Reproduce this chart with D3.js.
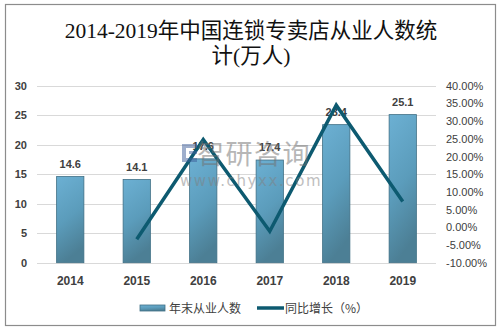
<!DOCTYPE html>
<html>
<head>
<meta charset="utf-8">
<script src="https://cdn.jsdelivr.net/npm/d3@7"></script>
<style>
  html, body { margin: 0; padding: 0; background: #fff; }
  svg { display: block; }
</style>
</head>
<body>
<svg id="chart" width="500" height="332"></svg>
<script>
// Chart data
const years = ["2014", "2015", "2016", "2017", "2018", "2019"];
const employees = [14.6, 14.1, 17.6, 17.4, 23.4, 25.1];          // 万人
const growth = [null, -3.4, 24.8, -1.1, 34.5, 7.3];               // %
const leftTicks = [0, 5, 10, 15, 20, 25, 30];
const rightTicks = [-10, -5, 0, 5, 10, 15, 20, 25, 30, 35, 40];
const titleLines = ["2014-2019年中国连锁专卖店从业人数统", "计(万人)"];
const legendLabels = ["年末从业人数", "同比增长（%）"];

const svg = d3.select("#chart");
const plot = { left: 37, right: 436, top: 85.7, bottom: 262.7 };
const textColor = "#404040";
const uiFont = "'Liberation Sans', Arial, 'Noto Sans CJK SC', sans-serif";

// Outer frame
svg.append("rect")
  .attr("x", 5.5).attr("y", 4.5).attr("width", 490).attr("height", 321)
  .attr("fill", "#fff").attr("stroke", "#8c8c8c").attr("stroke-width", 1.2);

// Title
const title = svg.append("text")
  .attr("text-anchor", "middle")
  .attr("font-family", "'Liberation Serif', 'DejaVu Serif', 'Noto Sans CJK SC', serif")
  .attr("font-size", 21.5)
  .attr("fill", "#111");
titleLines.forEach((t, i) => {
  title.append("tspan").attr("x", 251).attr("y", 38 + i * 25).text(t);
});

// Scales
const x = d3.scaleBand().domain(years).range([plot.left, plot.right]).paddingInner(0.59).paddingOuter(0.295);
const xc = d3.scalePoint().domain(years).range([plot.left + 33.25, plot.right - 33.25]);
const yL = d3.scaleLinear().domain([0, 30]).range([plot.bottom, plot.top]);
const yR = d3.scaleLinear().domain([-10, 40]).range([plot.bottom, plot.top]);

// Gridlines
svg.append("g").selectAll("line").data(leftTicks).join("line")
  .attr("x1", plot.left).attr("x2", plot.right)
  .attr("y1", d => Math.round(yL(d)) + 0.5).attr("y2", d => Math.round(yL(d)) + 0.5)
  .attr("stroke", "#d9d9d9").attr("stroke-width", 1);

// Left axis
const axL = svg.append("g").attr("transform", `translate(${plot.left},0)`)
  .call(d3.axisLeft(yL).tickValues(leftTicks).tickSize(0).tickPadding(10));
axL.select(".domain").remove();
axL.selectAll("text").attr("font-family", uiFont).attr("font-size", 11).attr("font-weight", "bold").attr("fill", textColor);

// Right axis
const axR = svg.append("g").attr("transform", `translate(${plot.right},0)`)
  .call(d3.axisRight(yR).tickValues(rightTicks).tickSize(0).tickPadding(10).tickFormat(d => d.toFixed(2) + "%"));
axR.select(".domain").remove();
axR.selectAll("text").attr("font-family", uiFont).attr("font-size", 11).attr("fill", textColor);

// Bottom axis
const axB = svg.append("g").attr("transform", `translate(0,${plot.bottom})`)
  .call(d3.axisBottom(x).tickSize(0).tickPadding(14));
axB.select(".domain").remove();
axB.selectAll("text").attr("font-family", uiFont).attr("font-size", 12).attr("font-weight", "bold").attr("fill", textColor);

// Bar gradient
const defs = svg.append("defs");
const grad = defs.append("linearGradient").attr("id", "barGrad")
  .attr("x1", "0").attr("y1", "0").attr("x2", "0.25").attr("y2", "1");
grad.append("stop").attr("offset", "0%").attr("stop-color", "#6cb0d3");
grad.append("stop").attr("offset", "55%").attr("stop-color", "#5b9cbb");
grad.append("stop").attr("offset", "100%").attr("stop-color", "#4c7f95");

// Bars
svg.append("g").selectAll("rect").data(employees).join("rect")
  .attr("x", (d, i) => x(years[i]))
  .attr("y", d => yL(d))
  .attr("width", x.bandwidth())
  .attr("height", d => yL(0) - yL(d))
  .attr("fill", "url(#barGrad)")
  .attr("stroke", "#3f6f85").attr("stroke-width", 0.8);

// Bar value labels
svg.append("g").selectAll("text").data(employees).join("text")
  .attr("x", (d, i) => x(years[i]) + x.bandwidth() / 2)
  .attr("y", d => yL(d) - 9)
  .attr("text-anchor", "middle")
  .attr("font-family", uiFont).attr("font-size", 11).attr("font-weight", "bold")
  .attr("fill", textColor)
  .text(d => d.toFixed(1));

// Growth line
const pts = years.map((y, i) => ({ y, v: growth[i] })).filter(p => p.v !== null);
svg.append("path").datum(pts)
  .attr("d", d3.line().x(p => xc(p.y)).y(p => yR(p.v)))
  .attr("fill", "none").attr("stroke", "#0d5a70").attr("stroke-width", 3.5)
  .attr("stroke-linejoin", "miter");

// Watermark
const wm = svg.append("g").attr("opacity", 0.5);
wm.append("path")
  .attr("d", "M182,144 h15 v4 h-11 v10 h11 v4 h-15 z M189,151 h8 v3 h-8 z")
  .attr("fill", "#3f5f9a");
wm.append("text").attr("x", 197).attr("y", 164)
  .attr("font-family", "'Noto Sans CJK SC', sans-serif").attr("font-size", 27)
  .attr("letter-spacing", 1.5)
  .attr("fill", "#707070").text("智研咨询");
wm.append("text").attr("x", 180).attr("y", 186)
  .attr("font-family", "'DejaVu Sans', sans-serif").attr("font-size", 15)
  .attr("letter-spacing", 1.6)
  .attr("fill", "#808080").text("www.chyxx.com");

// Legend
const lg = svg.append("g").attr("font-family", "'Noto Sans CJK SC', sans-serif").attr("font-size", 12).attr("fill", textColor);
lg.append("rect").attr("x", 140).attr("y", 305).attr("width", 25).attr("height", 6)
  .attr("fill", "url(#barGrad)").attr("stroke", "#3f6f85").attr("stroke-width", 0.8);
lg.append("text").attr("x", 169).attr("y", 312.5).text(legendLabels[0]);
lg.append("line").attr("x1", 257).attr("x2", 284).attr("y1", 308).attr("y2", 308)
  .attr("stroke", "#0d5a70").attr("stroke-width", 3.5);
lg.append("text").attr("x", 285).attr("y", 312.5).text(legendLabels[1]);
</script>
</body>
</html>
